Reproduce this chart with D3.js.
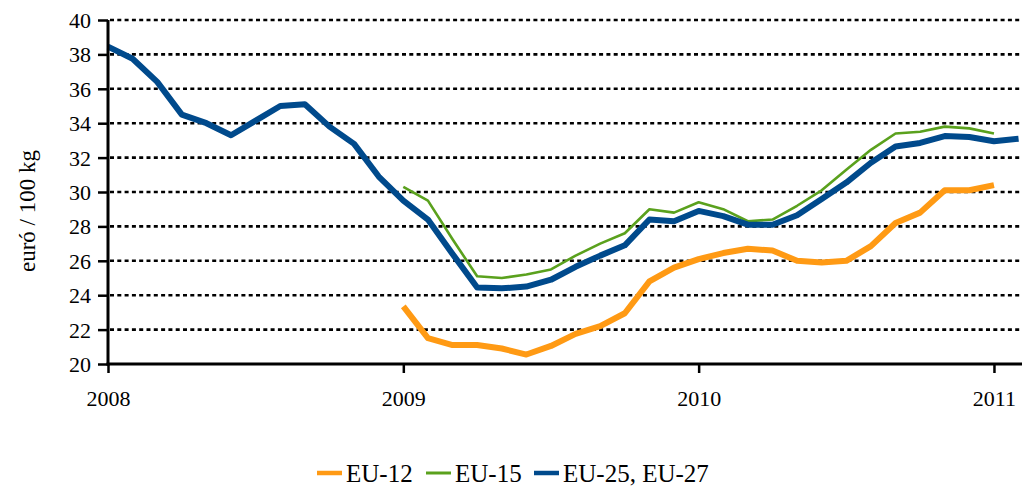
<!DOCTYPE html>
<html>
<head>
<meta charset="utf-8">
<script src="https://cdn.jsdelivr.net/npm/d3@7/dist/d3.min.js"></script>
<style>
  body { margin: 0; background: #fff; }
  text { font-family: "Liberation Serif", "Times New Roman", serif; fill: #000; }
</style>
</head>
<body>
<div id="chart-area"></div>
<script>
// Monthly categories, Jan 2008 - Feb 2011
var months = [
  "2008-01", "2008-02", "2008-03", "2008-04", "2008-05", "2008-06",
  "2008-07", "2008-08", "2008-09", "2008-10", "2008-11", "2008-12",
  "2009-01", "2009-02", "2009-03", "2009-04", "2009-05", "2009-06",
  "2009-07", "2009-08", "2009-09", "2009-10", "2009-11", "2009-12",
  "2010-01", "2010-02", "2010-03", "2010-04", "2010-05", "2010-06",
  "2010-07", "2010-08", "2010-09", "2010-10", "2010-11", "2010-12",
  "2011-01", "2011-02"
];

var yearTicks = ["2008-01", "2009-01", "2010-01", "2011-01"];
var yTicks = [20, 22, 24, 26, 28, 30, 32, 34, 36, 38, 40];

// EU-25, EU-27 : Jan 2008 - Feb 2011
var eu2527 = [
  38.45, 37.75, 36.4, 34.5, 34.0, 33.3, 34.15, 35.0, 35.1, 33.8, 32.8, 30.9,
  29.5, 28.4, 26.4, 24.45, 24.4, 24.5, 24.9, 25.65, 26.3, 26.9, 28.4, 28.3,
  28.9, 28.6, 28.1, 28.1, 28.65, 29.6, 30.55, 31.7, 32.65, 32.85, 33.25, 33.2,
  32.95, 33.1
];

// EU-15 : Jan 2009 - Jan 2011
var eu15 = [
  30.3, 29.5, 27.25, 25.1, 25.0, 25.2, 25.5, 26.3, 27.0, 27.6, 29.0, 28.8,
  29.4, 29.0, 28.3, 28.4, 29.2, 30.1, 31.3, 32.45, 33.4, 33.5, 33.8, 33.7,
  33.4
];

// EU-12 : Jan 2009 - Jan 2011
var eu12 = [
  23.35, 21.5, 21.1, 21.1, 20.9, 20.55, 21.05, 21.75, 22.2, 22.95, 24.8, 25.6,
  26.1, 26.45, 26.7, 26.6, 26.0, 25.9, 26.0, 26.85, 28.2, 28.8, 30.1, 30.1,
  30.4
];

var seriesNames = ["EU-12", "EU-15", "EU-25, EU-27"];
var seriesColors = ["#ff9a14", "#5aa11d", "#004a8c"];
var seriesWidths = [6, 2.6, 6];


LineChart = function (_parentElement) {
  this.parentElement = _parentElement;
  this.initVis();
};

LineChart.prototype.initVis = function () {
  var vis = this;

  vis.left = 108;
  vis.right = 1022;
  vis.top = 20;
  vis.bottom = 364;

  vis.svg = d3.select(vis.parentElement)
    .append("svg")
    .attr("width", 1030)
    .attr("height", 487);

  vis.xScale = d3.scalePoint()
    .domain(months)
    .range([vis.left, vis.left + 37 * 24.61]);

  vis.yScale = d3.scaleLinear()
    .domain([20, 40])
    .range([vis.bottom, vis.top]);

  vis.data = [
    { name: seriesNames[0], values: eu12.map((v, i) => ({ month: months[12 + i], value: v })) },
    { name: seriesNames[1], values: eu15.map((v, i) => ({ month: months[12 + i], value: v })) },
    { name: seriesNames[2], values: eu2527.map((v, i) => ({ month: months[i], value: v })) }
  ];

  vis.updateVis();
};

LineChart.prototype.updateVis = function () {
  var vis = this;

  /* dotted grid */
  vis.svg.append("g")
    .attr("class", "grid")
    .selectAll("line")
    .data(yTicks.filter(d => d > 20)).enter()
    .append("line")
    .attr("x1", vis.left + 2)
    .attr("x2", vis.right)
    .attr("y1", d => vis.yScale(d))
    .attr("y2", d => vis.yScale(d))
    .attr("stroke", "#000")
    .attr("stroke-width", 2.6)
    .attr("stroke-dasharray", "4,3.3");

  /* lines */
  vis.line = d3.line()
    .x(d => vis.xScale(d.month))
    .y(d => vis.yScale(d.value));

  vis.svg.append("g")
    .attr("class", "lines")
    .selectAll("path")
    .data(vis.data).enter()
    .append("path")
    .attr("d", d => vis.line(d.values))
    .attr("fill", "none")
    .attr("stroke", (d, i) => seriesColors[i])
    .attr("stroke-width", (d, i) => seriesWidths[i])
    .attr("stroke-linejoin", "round");

  /* axes */
  vis.yAxis = d3.axisLeft(vis.yScale)
    .tickValues(yTicks)
    .tickSize(10)
    .tickSizeOuter(0)
    .tickPadding(7);

  vis.xAxis = d3.axisBottom(vis.xScale)
    .tickValues(yearTicks)
    .tickFormat(d => d.slice(0, 4))
    .tickSize(9)
    .tickSizeOuter(0)
    .tickPadding(17);

  var yg = vis.svg.append("g")
    .attr("transform", `translate(${vis.left}, 0)`)
    .call(vis.yAxis);
  yg.select(".domain").remove();
  yg.selectAll("line").attr("stroke", "#000").attr("stroke-width", 2.5);
  yg.selectAll("text")
    .style("font-size", "22px")
    .attr("dy", "0.34em");

  var xg = vis.svg.append("g")
    .attr("transform", `translate(0, ${vis.bottom})`)
    .call(vis.xAxis);
  xg.select(".domain").remove();
  xg.selectAll("line").attr("stroke", "#000").attr("stroke-width", 2.5);
  xg.selectAll("text").style("font-size", "22px");

  vis.svg.append("line")
    .attr("x1", vis.left).attr("x2", vis.left)
    .attr("y1", vis.top).attr("y2", vis.bottom + 1.5)
    .attr("stroke", "#000").attr("stroke-width", 3);

  vis.svg.append("line")
    .attr("x1", vis.left - 1.5).attr("x2", vis.right)
    .attr("y1", vis.bottom).attr("y2", vis.bottom)
    .attr("stroke", "#000").attr("stroke-width", 3);

  vis.svg.append("text")
    .attr("transform", "translate(35, 211) rotate(-90)")
    .attr("text-anchor", "middle")
    .style("font-size", "23px")
    .text("euró / 100 kg");

  /* legend */
  var legendX = [317, 426, 534];
  var legend = vis.svg.append("g")
    .attr("class", "legend")
    .selectAll("g")
    .data(seriesNames).enter()
    .append("g")
    .attr("transform", (d, i) => `translate(${legendX[i]}, 473)`);

  legend.append("line")
    .attr("x1", 0).attr("x2", 25)
    .attr("stroke", (d, i) => seriesColors[i])
    .attr("stroke-width", (d, i) => i == 1 ? 3 : 4.5);

  legend.append("text")
    .attr("x", 29)
    .attr("y", 9)
    .style("font-size", "25px")
    .text(d => d);
};

var chart = new LineChart("#chart-area");
</script>
</body>
</html>
